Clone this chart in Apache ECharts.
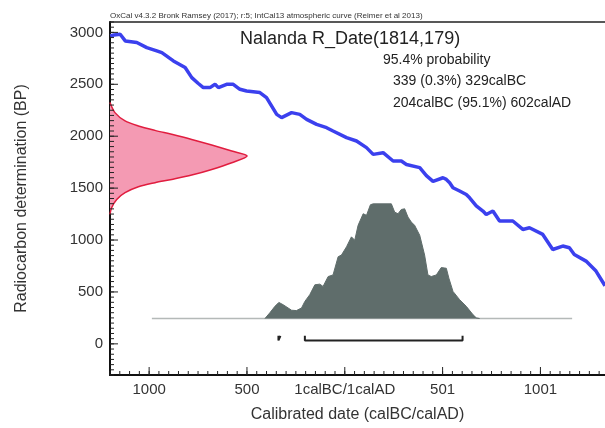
<!DOCTYPE html>
<html>
<head>
<meta charset="utf-8">
<script src="https://cdn.jsdelivr.net/npm/echarts@6/dist/echarts.min.js"></script>
<style>
    html, body { margin: 0; padding: 0; background: #fff; }
    #chart { width: 605px; height: 428px; }
</style>
</head>
<body>
<div id="chart"></div>
<script>
// calendar year (BC negative) / radiocarbon age BP
const curve = [
    [-1199, 2966], [-1180, 2975], [-1148, 2982], [-1122, 2918], [-1063, 2902], [-1012, 2853],
    [-961, 2822], [-935, 2805], [-876, 2725], [-816, 2661], [-782, 2564], [-750, 2510],
    [-723, 2468], [-689, 2468], [-663, 2500], [-646, 2468], [-604, 2500], [-570, 2500],
    [-536, 2452], [-502, 2436], [-434, 2420], [-400, 2371], [-348, 2210], [-323, 2179],
    [-272, 2227], [-230, 2210], [-195, 2162], [-144, 2114], [-93, 2082], [-60, 2050],
    [9, 1986], [60, 1954], [111, 1890], [145, 1825], [196, 1841], [247, 1761],
    [289, 1761], [315, 1728], [383, 1697], [417, 1620], [451, 1565], [502, 1600],
    [519, 1584], [536, 1552], [553, 1504], [587, 1472], [621, 1439], [638, 1407],
    [672, 1330], [706, 1279], [723, 1246], [757, 1279], [791, 1183], [859, 1183],
    [910, 1102], [944, 1118], [1012, 1054], [1063, 909], [1114, 942], [1148, 925],
    [1173, 861], [1233, 797], [1284, 701], [1330, 560]
];

// R_Date(1814,179): relative probability / BP
const rDate = [
    [0.0, 2324], [0.036, 2227], [0.11, 2147], [0.207, 2099], [0.328, 2056], [0.45, 2018],
    [0.596, 1969], [0.742, 1915], [0.888, 1857], [1.0, 1809], [0.888, 1745], [0.742, 1680],
    [0.596, 1626], [0.45, 1584], [0.328, 1552], [0.207, 1513], [0.11, 1456], [0.049, 1391],
    [0.012, 1311], [0.0, 1246]
];

// calibrated distribution: calendar year / relative probability
const calDist = [
    [-408, 0], [-383, 0.05], [-357, 0.106], [-337, 0.14], [-315, 0.12], [-272, 0.072],
    [-247, 0.069], [-221, 0.092], [-204, 0.149], [-179, 0.207], [-153, 0.293], [-128, 0.299],
    [-111, 0.279], [-85, 0.365], [-60, 0.379], [-34, 0.537], [-17, 0.552], [9, 0.624],
    [34, 0.71], [51, 0.681], [68, 0.81], [94, 0.911], [111, 0.897], [131, 0.989],
    [145, 0.997], [238, 0.997], [255, 0.925], [272, 0.911], [289, 0.948], [306, 0.954],
    [323, 0.882], [340, 0.839], [357, 0.81], [383, 0.724], [408, 0.552], [425, 0.379],
    [442, 0.365], [468, 0.379], [493, 0.443], [519, 0.437], [532, 0.351], [553, 0.236],
    [587, 0.164], [621, 0.106], [655, 0.034], [672, 0.006], [689, 0]
];
const calRange = [-986, 1162];

// 95.4% ranges
const ranges95 = [[-339, -329], [-204, 602]];

const xTicks = [-1000, -500, 0, 500, 1000];
const xTickLabels = ['1000', '500', '1calBC/1calAD', '501', '1001'];
const yTicks = [0, 500, 1000, 1500, 2000, 2500, 3000];

const X_MIN = -1200, X_MAX = 1330, Y_MIN = -300, Y_MAX = 3100;

// minor ticks every 50
const xMinorTicks = [];
for (let v = X_MIN; v <= X_MAX; v += 50) xMinorTicks.push(v);
const yMinorTicks = [];
for (let v = Y_MIN; v <= Y_MAX; v += 50) yMinorTicks.push(v);

const FONT = '"Liberation Sans", Arial, sans-serif';

const myChart = echarts.init(document.getElementById('chart'));

const bracketSeries = ranges95.map(function (r) {
    return {
        type: 'line',
        xAxisIndex: 0,
        yAxisIndex: 1,
        data: [[r[0], -0.15], [r[0], -0.19], [r[1], -0.19], [r[1], -0.15]],
        symbol: 'none',
        lineStyle: {color: '#222', width: 2},
        z: 5
    };
});

// tick marks drawn through the axis scales (inside the frame)
function tickSeries(values, dir, len) {
    return {
        type: 'custom',
        xAxisIndex: 0,
        yAxisIndex: 0,
        silent: true,
        clip: false,
        z: 6,
        data: values.map(function (v) { return [v, 0]; }),
        renderItem: function (params, api) {
            const v = api.value(0);
            let p, q;
            if (dir === 'x') {
                p = api.coord([v, Y_MIN]);
                q = [p[0], p[1] - len];
            } else {
                p = api.coord([X_MIN, v]);
                q = [p[0] + len, p[1]];
            }
            return {
                type: 'line',
                shape: {x1: p[0], y1: p[1], x2: q[0], y2: q[1]},
                style: {stroke: '#222', lineWidth: 1}
            };
        }
    };
}

const option = {
    backgroundColor: '#ffffff',
    animation: false,
    grid: {left: 110, right: 0, top: 22, bottom: 50},
    graphic: [
        {
            type: 'text', left: 110, top: 12,
            style: {
                text: 'OxCal v4.3.2 Bronk Ramsey (2017); r:5; IntCal13 atmospheric curve (Reimer et al 2013)',
                font: '8px ' + FONT, fill: '#333'
            }
        },
        {
            type: 'text', left: 240, top: 30,
            style: {text: 'Nalanda R_Date(1814,179)', font: '18px ' + FONT, fill: '#222'}
        },
        {
            type: 'text', left: 383, top: 53,
            style: {text: '95.4% probability', font: '14px ' + FONT, fill: '#222'}
        },
        {
            type: 'text', left: 393, top: 74,
            style: {text: '339 (0.3%) 329calBC', font: '14px ' + FONT, fill: '#222'}
        },
        {
            type: 'text', left: 393, top: 96,
            style: {text: '204calBC (95.1%) 602calAD', font: '14px ' + FONT, fill: '#222'}
        }
    ],
    xAxis: [
        {
            type: 'value',
            position: 'bottom',
            min: X_MIN,
            max: X_MAX,
            interval: 50,
            axisLine: {show: true, onZero: false, lineStyle: {color: '#111', width: 2}},
            axisTick: {show: false},
            axisLabel: {show: false},
            splitLine: {show: false},
            name: 'Calibrated date (calBC/calAD)',
            nameLocation: 'middle',
            nameGap: 32,
            nameTextStyle: {fontFamily: FONT, fontSize: 16, color: '#333'}
        },
        {
            type: 'value',
            position: 'top',
            min: 0,
            max: 3.61,
            axisLine: {show: true, onZero: false, lineStyle: {color: '#222', width: 1.5}},
            axisTick: {show: false},
            axisLabel: {show: false},
            splitLine: {show: false}
        },
        {
            type: 'value',
            position: 'bottom',
            min: X_MIN,
            max: X_MAX,
            axisLine: {show: true, onZero: false, lineStyle: {color: '#111'}},
            axisTick: {show: false},
            axisLabel: {
                customValues: xTicks,
                margin: 7,
                fontFamily: FONT,
                fontSize: 15,
                color: '#333',
                formatter: function (v) {
                    return xTickLabels[xTicks.indexOf(v)];
                }
            },
            splitLine: {show: false}
        }
    ],
    yAxis: [
        {
            type: 'value',
            position: 'left',
            min: Y_MIN,
            max: Y_MAX,
            interval: 50,
            axisLine: {show: true, onZero: false, lineStyle: {color: '#111', width: 2}},
            axisTick: {show: false},
            axisLabel: {show: false},
            splitLine: {show: false},
            name: 'Radiocarbon determination (BP)',
            nameLocation: 'middle',
            nameGap: 80,
            nameTextStyle: {fontFamily: FONT, fontSize: 16, color: '#333'}
        },
        {
            type: 'value',
            show: false,
            min: -0.491,
            max: 2.578,
            axisLine: {onZero: false}
        },
        {
            type: 'value',
            position: 'left',
            min: Y_MIN,
            max: Y_MAX,
            axisLine: {show: true, onZero: false, lineStyle: {color: '#111'}},
            axisTick: {show: false},
            axisLabel: {
                customValues: yTicks,
                margin: 7,
                fontFamily: FONT,
                fontSize: 15,
                color: '#333',
                formatter: function (v) {
                    return String(v);
                }
            },
            splitLine: {show: false}
        }
    ],
    series: [
        {
            type: 'line',
            xAxisIndex: 0,
            yAxisIndex: 1,
            data: [[calRange[0], 0], [calRange[1], 0]],
            symbol: 'none',
            lineStyle: {color: '#b4b9b8', width: 1.5},
            z: 1
        },
        {
            type: 'line',
            xAxisIndex: 0,
            yAxisIndex: 1,
            data: calDist,
            symbol: 'none',
            lineStyle: {color: '#5f6d6b', width: 1},
            areaStyle: {color: '#5f6d6b', opacity: 1},
            z: 2
        },
        {
            type: 'custom',
            xAxisIndex: 1,
            yAxisIndex: 0,
            data: rDate,
            renderItem: function (params, api) {
                if (params.dataIndex !== 0) return null;
                const pts = rDate.map(function (d) { return api.coord(d); });
                const closed = pts.concat([api.coord([0, rDate[rDate.length - 1][1]]), api.coord([0, rDate[0][1]])]);
                return {
                    type: 'group',
                    children: [
                        {type: 'polygon', shape: {points: closed, smooth: 0.3}, style: {fill: '#f49ab3', stroke: null}},
                        {type: 'polyline', shape: {points: pts, smooth: 0.3}, style: {stroke: '#e11d3f', lineWidth: 1.5, fill: null}}
                    ]
                };
            },
            z: 3
        },
        {
            type: 'line',
            xAxisIndex: 0,
            yAxisIndex: 0,
            data: curve,
            symbol: 'none',
            lineStyle: {color: '#3b40ee', width: 3.5},
            z: 4
        },
        tickSeries(xMinorTicks, 'x', 4),
        tickSeries(xTicks, 'x', 8),
        tickSeries(yMinorTicks, 'y', 4),
        tickSeries(yTicks, 'y', 8)
    ].concat(bracketSeries)
};

myChart.setOption(option);
window.onresize = myChart.resize;
</script>
</body>
</html>
